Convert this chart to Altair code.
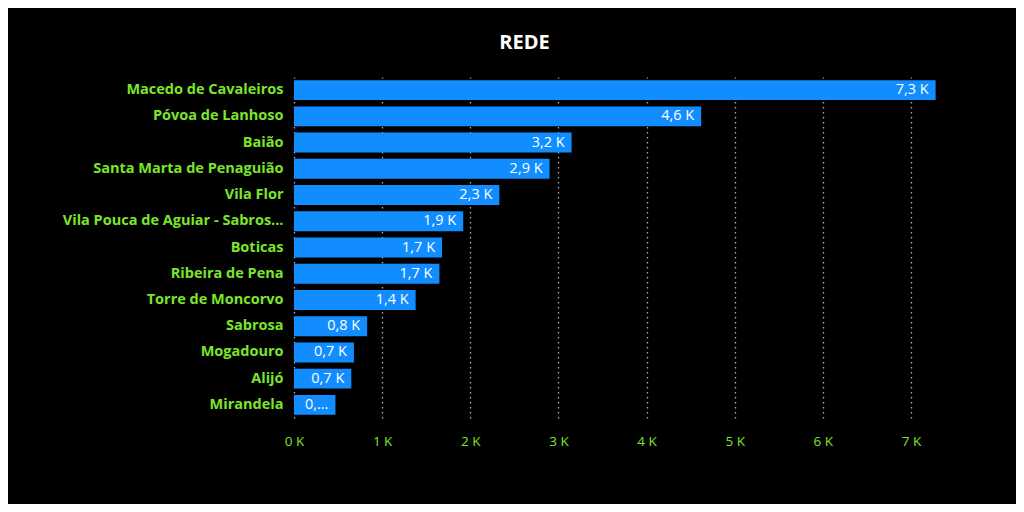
import altair as alt
import pandas as pd

categories = ["Macedo de Cavaleiros", "Póvoa de Lanhoso", "Baião", "Santa Marta de Penaguião",
              "Vila Flor", "Vila Pouca de Aguiar - Sabros...", "Boticas", "Ribeira de Pena",
              "Torre de Moncorvo", "Sabrosa", "Mogadouro", "Alijó", "Mirandela"]
values = [7280, 4620, 3150, 2900, 2330, 1920, 1680, 1650, 1380, 830, 680, 650, 470]
labels = ["7,3 K", "4,6 K", "3,2 K", "2,9 K", "2,3 K", "1,9 K", "1,7 K", "1,7 K",
          "1,4 K", "0,8 K", "0,7 K", "0,7 K", "0,..."]
x_ticks = [0, 1000, 2000, 3000, 4000, 5000, 6000, 7000]

df = pd.DataFrame({"cat": categories, "val": values, "lab": labels})

GREEN = "#7CE52B"
FONT = "Open Sans"

y_enc = alt.Y("cat:N", sort=categories, title=None,
              scale=alt.Scale(paddingInner=0.24, paddingOuter=0.12),
              axis=alt.Axis(labelColor=GREEN, labelFont=FONT, labelFontSize=14.5,
                            labelFontWeight="bold", ticks=False, domain=False,
                            labelPadding=11, grid=False, labelLimit=300))
x_enc = alt.X("val:Q", title=None, scale=alt.Scale(domain=[0, 7500], nice=False),
              axis=alt.Axis(values=x_ticks, labelExpr="datum.value/1000 + ' K'",
                            labelColor=GREEN, labelFont=FONT, labelFontSize=13.5,
                            labelFlush=False, ticks=False, domain=False, labelPadding=16,
                            grid=True, gridColor="#b0b0b0", gridDash=[1.5, 3.5],
                            gridWidth=1.3))

bars = alt.Chart(df).mark_bar(color="#118DFF").encode(x=x_enc, y=y_enc)
text = alt.Chart(df).mark_text(align="right", baseline="middle", dx=-7, color="white",
                               font=FONT, fontSize=14.5).encode(
    x=alt.X("val:Q"), y=alt.Y("cat:N", sort=categories), text="lab:N")

chart = (bars + text).properties(
    width=661, height=341,
    title=alt.TitleParams("REDE", color="white", font=FONT, fontSize=20, fontWeight="bold",
                          anchor="middle", dx=-100, offset=24),
    autosize=alt.AutoSizeParams(type="none"),
    padding={"left": 286, "top": 69, "right": 61, "bottom": 86},
    background="black",
).configure_view(stroke=None)

chart.save("out.html", embed_options={"renderer": "svg", "actions": False})
